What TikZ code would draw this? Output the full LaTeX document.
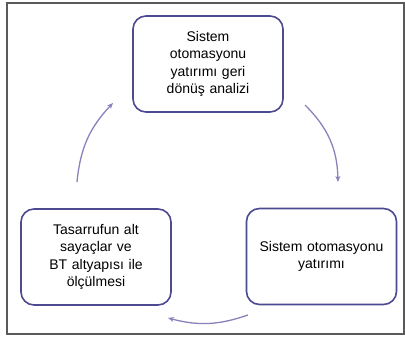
\documentclass[tikz,border=0pt]{standalone}
\usepackage{fontspec}
\setmainfont{Liberation Sans}
\usetikzlibrary{arrows.meta}
\definecolor{boxline}{HTML}{4E4A92}
\definecolor{arrowline}{HTML}{8A82BC}
\definecolor{frameline}{HTML}{5A5A5A}
\begin{document}
\begin{tikzpicture}[x=1bp,y=1bp,
  stagebox/.style={draw=boxline, line width=1.6bp, rounded corners=13bp,
    fill=white, minimum width=150bp, minimum height=96bp, align=center,
    text width=140bp, font=\fontsize{14bp}{17.5bp}\selectfont, inner sep=0pt},
  cyclearrow/.style={draw=arrowline, line width=1.3bp,
    -{Stealth[length=6bp,width=5bp]}}]
  \useasboundingbox (0,0) rectangle (405,338);
  \fill[white] (0,0) rectangle (405,338);
  \draw[frameline, line width=1.2bp] (7,4) rectangle (404,335);

  \node[stagebox] (roi) at (208,274) {Sistem\\otomasyonu\\yatırımı geri\\dönüş analizi};
  \node[stagebox] (invest) at (321.5,81.5) {Sistem otomasyonu\\yatırımı};
  \node[stagebox] (measure) at (96,81) {Tasarrufun alt\\sayaçlar ve\\BT altyapısı ile\\ölçülmesi};

  \coordinate (a1s) at (305,233);
  \coordinate (a1e) at (338,156);
  \coordinate (a2s) at (248,23);
  \coordinate (a2e) at (168,20);
  \coordinate (a3s) at (77,156);
  \coordinate (a3e) at (113,235);

  \draw[cyclearrow] (a1s) to[bend left=22] (a1e);
  \draw[cyclearrow] (a2s) to[bend left=17] (a2e);
  \draw[cyclearrow] (a3s) to[bend left=19] (a3e);
\end{tikzpicture}
\end{document}
